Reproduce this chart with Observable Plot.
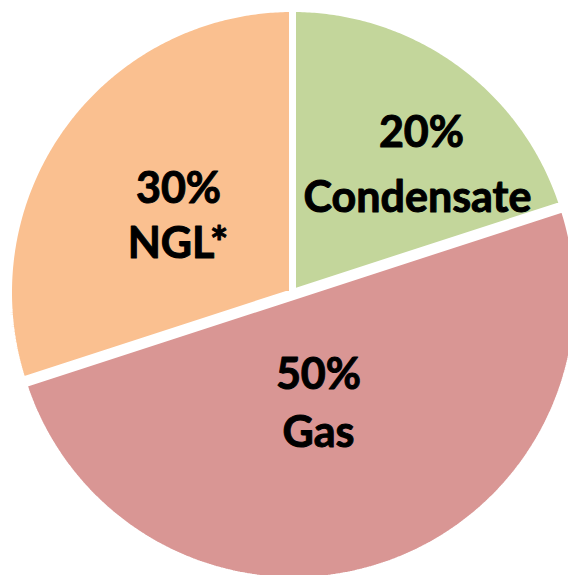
<!DOCTYPE html>
<html><head><meta charset="utf-8">
<script src="https://cdn.jsdelivr.net/npm/d3@7"></script>
<script src="https://cdn.jsdelivr.net/npm/@observablehq/plot@0.6"></script>
<style>html,body{margin:0;padding:0;background:#fff;overflow:hidden}#chart svg{display:block}</style>
</head><body><div id="chart"></div>
<script>
// ---- data ----
const categories = ["Condensate", "Gas", "NGL*"];
const shares = [20, 50, 30];
const colors = ["#c3d69b", "#d99694", "#fac090"];
const percentLabels = ["20%", "50%", "30%"];

// ---- layout (unit = pie radius, y pointing down) ----
const frame = {cx: 292, cy: 292, r: 284, w: 571, h: 578};
const explodePx = [0, 4, 0];
const labelLayout = [
  {x1: 0.4542, y1: -0.5106, x2: 0.4401, y2: -0.2835},
  {x1: 0.0915, y1: 0.3415, x2: 0.0915, y2: 0.5423},
  {x1: -0.4014, y1: -0.3169, x2: -0.4032, y2: -0.1232}
];

const arcs = d3.pie().sort(null).value(d => d)(shares);
const features = arcs.map((a, i) => {
  const off = explodePx[i] / frame.r;
  const mid = (a.startAngle + a.endAngle) / 2;
  const ox = off * Math.sin(mid), oy = -off * Math.cos(mid);
  const pts = [[ox, oy]];
  const n = Math.max(2, Math.ceil((a.endAngle - a.startAngle) / (Math.PI / 360)));
  for (let k = 0; k <= n; k++) {
    const t = a.startAngle + (a.endAngle - a.startAngle) * k / n;
    pts.push([ox + Math.sin(t), oy - Math.cos(t)]);
  }
  pts.push([ox, oy]);
  return {type: "Feature", properties: {name: categories[i]}, geometry: {type: "Polygon", coordinates: [pts]}};
});

const rows = categories.map((c, i) => ({name: c, pct: percentLabels[i], ...labelLayout[i]}));

const domain = {type: "MultiPoint", coordinates: [
  [-frame.cx / frame.r, -frame.cy / frame.r],
  [(frame.w - frame.cx) / frame.r, (frame.h - frame.cy) / frame.r]
]};

const textStyle = {fontSize: 43, fontWeight: "bold", fontFamily: "Lato, 'Open Sans', sans-serif", fill: "#000", stroke: "#000", strokeWidth: 1, textAnchor: "middle", lineAnchor: "bottom"};

const chart = Plot.plot({
  width: frame.w,
  height: frame.h,
  margin: 0,
  projection: {type: "identity", domain},
  color: {domain: categories, range: colors},
  marks: [
    Plot.geo(features, {fill: d => d.properties.name, stroke: "white", strokeWidth: 7, strokeLinejoin: "miter"}),
    Plot.text(rows, {x: "x1", y: "y1", text: "pct", ...textStyle}),
    Plot.text(rows, {x: "x2", y: "y2", text: "name", ...textStyle})
  ]
});
document.getElementById("chart").appendChild(chart);
</script>
</body></html>
